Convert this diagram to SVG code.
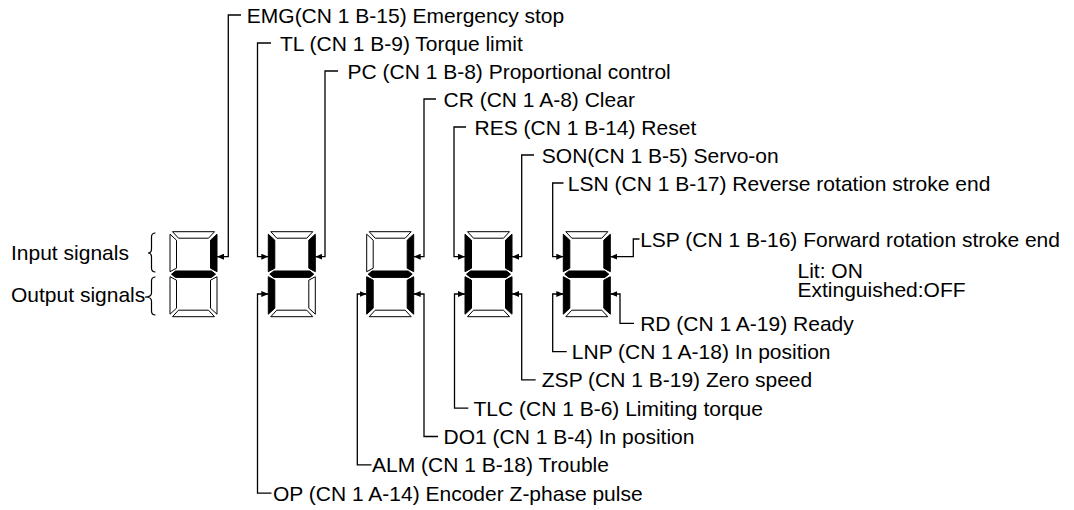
<svg xmlns="http://www.w3.org/2000/svg" width="1074" height="510" viewBox="0 0 1074 510">
<style>
text{font-family:"Liberation Sans",Arial,sans-serif;font-size:21px;fill:#000}
.off{fill:#fff;stroke:#000;stroke-width:1}
.on{fill:#000;stroke:#000;stroke-width:1}
.c{fill:none;stroke:#000;stroke-width:1.3}
.br{fill:none;stroke:#000;stroke-width:1.2}
</style>
<defs>
<marker id="ah" viewBox="0 0 7 6" refX="7" refY="3" markerWidth="7" markerHeight="6" markerUnits="userSpaceOnUse" orient="auto"><path d="M0,0 L7,3 L0,6 Z" fill="#000"/></marker>
<polygon id="sa" points="2.5,0 44.5,0 38.5,6.5 8.5,6.5"/>
<polygon id="sb" points="47,2.5 47,40 40.5,36.5 40.5,8.5"/>
<polygon id="sf" points="0,2.5 6.5,8.5 6.5,36.5 0,40"/>
<polygon id="sg" points="1.5,42.5 5.5,39.3 41.5,39.3 45.5,42.5 41.5,45.7 5.5,45.7"/>
<polygon id="se" points="0,45 6.5,48.5 6.5,76.5 0,82.5"/>
<polygon id="sc" points="47,45 40.5,48.5 40.5,76.5 47,82.5"/>
<polygon id="sd" points="2.5,85 44.5,85 38.5,78.5 8.5,78.5"/>
</defs>
<rect width="1074" height="510" fill="#fff"/>

<g id="side-labels">
<text x="11" y="260">Input signals</text>
<text x="11" y="301.5">Output signals</text>
<path class="br" d="M155.5,233 Q151.5,233 151.5,237 V249 Q151.5,253 148,253 Q151.5,253 151.5,257 V268 Q151.5,272 155.5,272"/>
<path class="br" d="M155.5,277 Q151.5,277 151.5,281 V293 Q151.5,297 145,297 Q151.5,297 151.5,301 V311 Q151.5,315 155.5,315"/>
</g>

<g id="digit1" transform="translate(170,231.7)">
<use href="#sa" class="off"/><use href="#sb" class="on"/><use href="#sc" class="off"/><use href="#sd" class="off"/><use href="#se" class="off"/><use href="#sf" class="off"/><use href="#sg" class="on"/>
</g>
<g id="digit2" transform="translate(268.3,231.7)">
<use href="#sa" class="off"/><use href="#sb" class="on"/><use href="#sc" class="off"/><use href="#sd" class="off"/><use href="#se" class="on"/><use href="#sf" class="on"/><use href="#sg" class="on"/>
</g>
<g id="digit3" transform="translate(366.7,231.7)">
<use href="#sa" class="off"/><use href="#sb" class="on"/><use href="#sc" class="on"/><use href="#sd" class="off"/><use href="#se" class="on"/><use href="#sf" class="off"/><use href="#sg" class="on"/>
</g>
<g id="digit4" transform="translate(465,231.7)">
<use href="#sa" class="off"/><use href="#sb" class="on"/><use href="#sc" class="on"/><use href="#sd" class="off"/><use href="#se" class="on"/><use href="#sf" class="on"/><use href="#sg" class="on"/>
</g>
<g id="digit5" transform="translate(563.3,231.7)">
<use href="#sa" class="off"/><use href="#sb" class="on"/><use href="#sc" class="on"/><use href="#sd" class="off"/><use href="#se" class="on"/><use href="#sf" class="on"/><use href="#sg" class="on"/>
</g>

<g id="connectors" class="c">
<path class="c" marker-end="url(#ah)" d="M241,15 H228.3 V256.7 H217"/>
<path class="c" marker-end="url(#ah)" d="M271,43 H257.5 V256.7 H268.3"/>
<path class="c" marker-end="url(#ah)" d="M338,71 H325 V256.7 H315.3"/>
<path class="c" marker-end="url(#ah)" d="M436,99 H424 V256.7 H413.7"/>
<path class="c" marker-end="url(#ah)" d="M466,127 H454 V256.7 H465"/>
<path class="c" marker-end="url(#ah)" d="M534,155 H521.7 V256.7 H512"/>
<path class="c" marker-end="url(#ah)" d="M563.5,183 H552.7 V256.7 H563.3"/>
<path class="c" marker-end="url(#ah)" d="M639.5,239 H633.3 V256.7 H610.3"/>
<path class="c" marker-end="url(#ah)" d="M634,323.3 H620 V294 H610.3"/>
<path class="c" marker-end="url(#ah)" d="M566.7,351.6 H552.7 V294 H563.3"/>
<path class="c" marker-end="url(#ah)" d="M535.7,379.9 H521.7 V294 H512"/>
<path class="c" marker-end="url(#ah)" d="M468.3,408.2 H454.5 V294 H465"/>
<path class="c" marker-end="url(#ah)" d="M438,436.5 H424 V294 H413.7"/>
<path class="c" marker-end="url(#ah)" d="M371.5,464.8 H357.3 V294 H366.7"/>
<path class="c" marker-end="url(#ah)" d="M271.5,493.1 H257.5 V294 H268.3"/>
</g>

<g id="label-emg"><text x="246.8" y="22.5">EMG(CN 1 B-15) Emergency stop</text></g>
<g id="label-tl"><text x="280" y="50.5">TL (CN 1 B-9) Torque limit</text></g>
<g id="label-pc"><text x="347.5" y="78.5">PC (CN 1 B-8) Proportional control</text></g>
<g id="label-cr"><text x="443.5" y="106.5">CR (CN 1 A-8) Clear</text></g>
<g id="label-res"><text x="474.5" y="134.5">RES (CN 1 B-14) Reset</text></g>
<g id="label-son"><text x="541.8" y="162.5">SON(CN 1 B-5) Servo-on</text></g>
<g id="label-lsn"><text x="567.8" y="190.5">LSN (CN 1 B-17) Reverse rotation stroke end</text></g>
<g id="label-lsp"><text x="640.2" y="246.5">LSP (CN 1 B-16) Forward rotation stroke end</text></g>
<g id="label-lit"><text x="797.5" y="278.3">Lit: ON</text><text x="797.5" y="296.7">Extinguished:OFF</text></g>
<g id="label-rd"><text x="640.2" y="330.8">RD (CN 1 A-19) Ready</text></g>
<g id="label-lnp"><text x="571.8" y="359.1">LNP (CN 1 A-18) In position</text></g>
<g id="label-zsp"><text x="541.8" y="387.4">ZSP (CN 1 B-19) Zero speed</text></g>
<g id="label-tlc"><text x="473.5" y="415.7">TLC (CN 1 B-6) Limiting torque</text></g>
<g id="label-do1"><text x="443.5" y="444">DO1 (CN 1 B-4) In position</text></g>
<g id="label-alm"><text x="372" y="472.3">ALM (CN 1 B-18) Trouble</text></g>
<g id="label-op"><text x="273" y="500.6">OP (CN 1 A-14) Encoder Z-phase pulse</text></g>
</svg>
